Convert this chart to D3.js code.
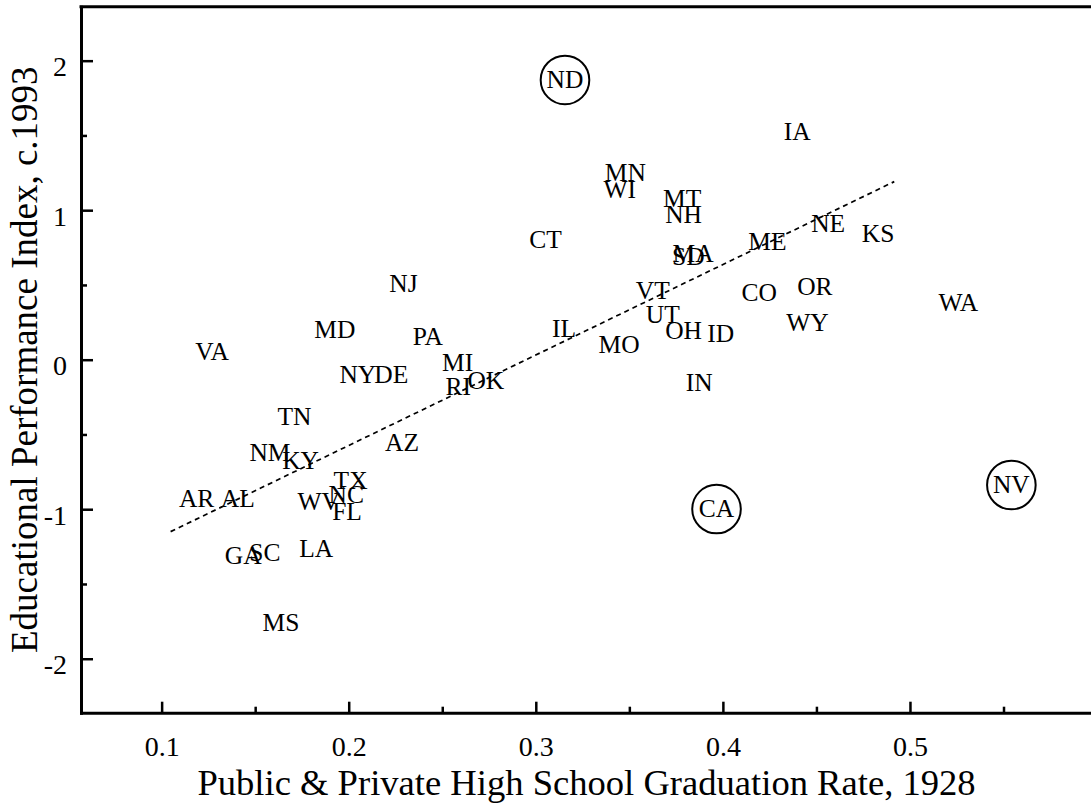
<!DOCTYPE html>
<head>
<meta charset="utf-8">
<style>
  body { margin:0; background:#fff; }
  svg { display:block; }
  text { font-family: "Liberation Serif", "Times New Roman", serif; fill:#000; }
  .axis path, .axis line { stroke:#000; }
  .axis .domain { stroke-width:3px; }
  .axis .tick line { stroke-width:2.5px; }
  .axis text { font-size:28px; font-family: "Liberation Serif", serif; }
  .lbl { font-size:25.5px; }
  .ttl { font-size:36.6px; }
</style>
<script src="https://d3js.org/d3.v7.min.js"></script>
</head>

<body>
<script>

var width = 1091;
var height = 804;

// state labels, 1928 graduation rate, c.1993 performance index
var states = ["ND","IA","MN","WI","MT","NH","CT","NE","KS","ME","MA","SD",
              "NJ","VT","CO","OR","WA","UT","WY","MD","PA","IL","OH","ID",
              "MO","VA","MI","NY","DE","RI","OK","IN","TN","AZ","NM","KY",
              "TX","NC","WV","FL","CA","AR","AL","NV","GA","SC","LA","MS"];
var gradRate = [0.3156,0.4397,0.3479,0.3449,0.3782,0.3790,0.3052,0.4563,0.4830,0.4238,0.3841,0.3815,
                0.2293,0.3625,0.4194,0.4492,0.5258,0.3679,0.4452,0.1926,0.2423,0.3151,0.3790,0.3988,
                0.3445,0.1270,0.2582,0.2049,0.2228,0.2585,0.2733,0.3873,0.1710,0.2285,0.1579,0.1743,
                0.2010,0.1987,0.1840,0.1991,0.3966,0.1187,0.1407,0.5542,0.1436,0.1552,0.1826,0.1638];
var perfIndex = [1.871,1.528,1.254,1.135,1.080,0.973,0.804,0.912,0.841,0.789,0.712,0.689,
                 0.511,0.460,0.447,0.486,0.384,0.304,0.247,0.202,0.152,0.210,0.197,0.173,
                 0.102,0.056,-0.022,-0.102,-0.102,-0.181,-0.142,-0.151,-0.379,-0.553,-0.622,-0.678,
                 -0.808,-0.905,-0.950,-1.014,-0.999,-0.927,-0.927,-0.838,-1.312,-1.292,-1.264,-1.760];
var circled = ["ND","CA","NV"];

// fitted line end points
var fitX = [0.1048, 0.4916];
var fitY = [-1.150, 1.191];

var xTicks = [0.1, 0.2, 0.3, 0.4, 0.5];
var xMinor = [0.15, 0.25, 0.35, 0.45, 0.55];
var yTicks = [-2, -1, 0, 1, 2];
var yMinor = [-1.5, -0.5, 0.5, 1.5];

var margin = {top: 6.7, right: -1, bottom: 91.3, left: 81};
var w = width - margin.left - margin.right;
var h = height - margin.top - margin.bottom;

var x = d3.scaleLinear().domain([0.0569, 0.5973]).range([0, w]);
var y = d3.scaleLinear().domain([-2.361, 2.361]).range([h, 0]);

var svg = d3.select("body").append("svg")
    .attr("width", width)
    .attr("height", height);

var g = svg.append("g")
    .attr("transform", "translate(" + margin.left + "," + margin.top + ")");

// minor ticks first
g.append("g").attr("class", "axis")
    .attr("transform", "translate(0," + h + ")")
    .call(d3.axisBottom(x).tickValues(xMinor).tickSize(-6).tickSizeOuter(0).tickFormat(""))
    .select(".domain").remove();
g.append("g").attr("class", "axis")
    .call(d3.axisLeft(y).tickValues(yMinor).tickSize(-6).tickSizeOuter(0).tickFormat(""))
    .select(".domain").remove();

var xAxis = g.append("g").attr("class", "axis")
    .attr("transform", "translate(0," + h + ")")
    .call(d3.axisBottom(x).tickValues(xTicks).tickSize(-11).tickSizeOuter(0)
        .tickPadding(23).tickFormat(d3.format(".1f")));

// plain hyphen for negatives, like the original
var yAxis = g.append("g").attr("class", "axis")
    .call(d3.axisLeft(y).tickValues(yTicks).tickSize(-12).tickSizeOuter(0)
        .tickPadding(14).tickFormat(function(d) { return String(d); }));
yAxis.selectAll("text").attr("transform", "translate(0,6)");

g.selectAll(".axis .domain").attr("stroke-linecap", "square");

// top frame line
g.append("line")
    .attr("x1", 0).attr("x2", w)
    .attr("y1", 0).attr("y2", 0)
    .attr("stroke", "#000")
    .attr("stroke-width", 3)
    .attr("stroke-linecap", "square");

// fitted line
var fit = d3.line()
    .x(function(d, i) { return x(d); })
    .y(function(d, i) { return y(fitY[i]); });
g.append("path")
    .datum(fitX)
    .attr("d", fit)
    .attr("fill", "none")
    .attr("stroke", "#000")
    .attr("stroke-width", 1.7)
    .attr("stroke-dasharray", "5,4");

var pts = states.map(function(s, i) {
    return {name: s, gx: gradRate[i], py: perfIndex[i]};
});

g.selectAll("circle.out")
    .data(pts.filter(function(d) { return circled.indexOf(d.name) >= 0; }))
    .enter().append("circle")
    .attr("class", "out")
    .attr("cx", function(d) { return x(d.gx); })
    .attr("cy", function(d) { return y(d.py); })
    .attr("r", 24.3)
    .attr("fill", "none")
    .attr("stroke", "#000")
    .attr("stroke-width", 2);

g.selectAll("text.lbl")
    .data(pts)
    .enter().append("text")
    .attr("class", "lbl")
    .attr("x", function(d) { return x(d.gx); })
    .attr("y", function(d) { return y(d.py); })
    .attr("dy", "0.33em")
    .attr("text-anchor", "middle")
    .text(function(d) { return d.name; });

// axis titles
svg.append("text")
    .attr("class", "ttl")
    .attr("x", margin.left + w / 2)
    .attr("y", 795)
    .attr("text-anchor", "middle")
    .text("Public & Private High School Graduation Rate, 1928");

svg.append("text")
    .attr("class", "ttl")
    .style("font-size", "37px")
    .attr("transform", "translate(36.7," + (margin.top + h / 2) + ") rotate(-90)")
    .attr("text-anchor", "middle")
    .text("Educational Performance Index, c.1993");

</script>
</body>
